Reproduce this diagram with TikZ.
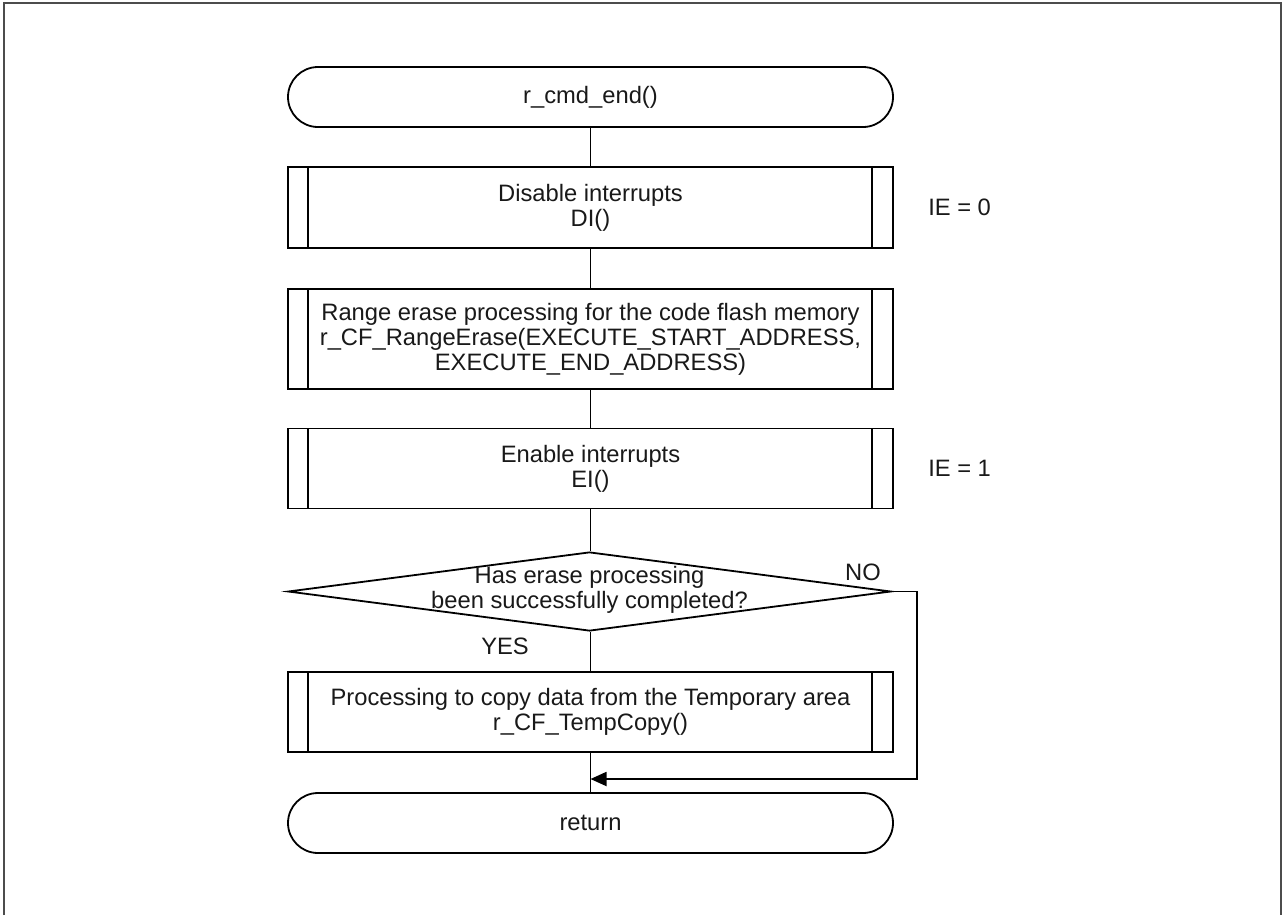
\documentclass[tikz,border=0pt]{standalone}
\usepackage{fontspec}
\setmainfont{Liberation Sans}
\usetikzlibrary{shapes.geometric,arrows.meta}

\begin{document}
\begin{tikzpicture}[x=0.75pt,y=-0.75pt,
  every node/.style={font=\fontsize{17.8}{18.75}\selectfont, align=center, text=black!90},
  flow/.style={line width=1.35pt, draw=black},
  term/.style={flow, rectangle, rounded corners=22.5pt, minimum width=453.75pt,
    minimum height=45pt, inner sep=0pt, fill=white},
  subbox/.style={flow, rectangle, minimum width=453.75pt, inner sep=0pt, fill=white,
    path picture={
      \draw[line width=1.35pt] ([xshift=15pt]path picture bounding box.north west)
        -- ([xshift=15pt]path picture bounding box.south west);
      \draw[line width=1.35pt] ([xshift=-15.75pt]path picture bounding box.north east)
        -- ([xshift=-15.75pt]path picture bounding box.south east);
    }},
  decide/.style={flow, diamond, minimum width=452.25pt, minimum height=59.25pt,
    inner sep=0pt, fill=white},
  link/.style={line width=1.35pt, draw=black},
  note/.style={inner sep=0pt}
]
\useasboundingbox (0,0) rectangle (1282,915);

% outer frame
\draw[line width=1.1pt, black!70] (4,915) -- (4,3) -- (1281,3) -- (1281,915);

% flow steps
\node[term] (start) at (590.5,97) {r\_cmd\_end()};
\node[subbox, minimum height=60.75pt] (di) at (590.5,207.5)
  {Disable interrupts\\DI()};
\node[subbox, minimum height=75pt] (erase) at (590.5,339)
  {Range erase processing for the code flash memory\\
   r\_CF\_RangeErase(EXECUTE\_START\_ADDRESS,\\
   EXECUTE\_END\_ADDRESS)};
\node[subbox, minimum height=60pt] (ei) at (590.5,468.5)
  {Enable interrupts\\EI()};
\node[decide] (ok) at (589.5,591.5) {};
\node[note] (oktext) at (589.5,589.5)
  {Has erase processing\\been successfully completed?};
\node[subbox, minimum height=60pt] (copy) at (590.5,712)
  {Processing to copy data from the Temporary area\\r\_CF\_TempCopy()};
\node[term] (ret) at (590.5,823) {return};

% side notes and branch labels
\node[note, anchor=west] (ie0) at (928,207) {IE = 0};
\node[note, anchor=west] (ie1) at (928,468) {IE = 1};
\node[note] (yes) at (505,646) {YES};
\node[note] (no) at (863,572) {NO};

% connectors
\draw[link] (start) -- (di);
\draw[link] (di) -- (erase);
\draw[link] (erase) -- (ei);
\draw[link] (ei) -- (ok.north -| ei);
\draw[link] (ok.south -| copy) -- (copy);
\draw[link] (copy) -- (ret);

\coordinate (noturn) at (917,779);
\coordinate (merge) at (ret.north |- noturn);
\draw[link, -{Triangle[length=12pt,width=10.5pt]}]
  (ok.east) -- (ok.east -| noturn) -- (noturn) -- (merge);
\end{tikzpicture}
\end{document}
